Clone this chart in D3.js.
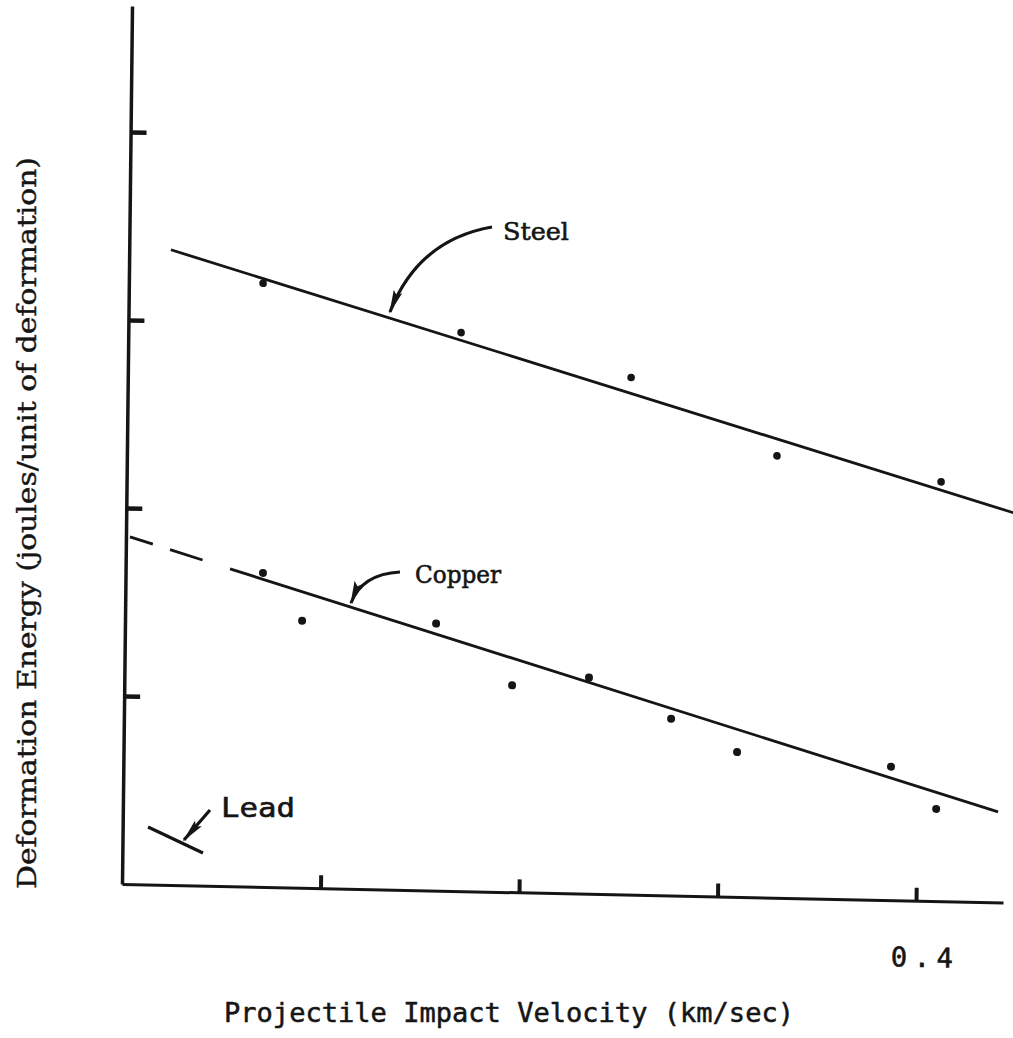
<!DOCTYPE html>
<html>
<head>
<meta charset="utf-8">
<script src="https://cdn.jsdelivr.net/npm/d3@7"></script>
<style>
    body { margin: 0; background: #fff; }
    svg { display: block; }
</style>
</head>
<body>
<div id="content"></div>
<script>
// ======= data =======
var steelVel = [0.0676, 0.1676, 0.2535, 0.3274, 0.4102];
var steelEnergy = [3.21, 2.97, 2.75, 2.35, 2.23];
var copperVel = [0.0692, 0.0892, 0.1567, 0.1953, 0.2340, 0.2756, 0.3090, 0.3866, 0.4096];
var copperEnergy = [1.67, 1.42, 1.42, 1.10, 1.15, 0.94, 0.77, 0.71, 0.49];

// fitted lines
var steelFitVel = [0.021, 0.447];
var steelFitEnergy = [3.378, 2.073];
var copperFitVel = [0.0526, 0.4408];
var copperFitEnergy = [1.688, 0.481];
var copperExtrapVel = [0.002, 0.0526];
var copperExtrapEnergy = [1.847, 1.688];
var leadFitVel = [0.0128, 0.0406];
var leadFitEnergy = [0.306, 0.174];

// axes
var xTicks = [0.1, 0.2, 0.3, 0.4];
var xTickLabels = ["", "", "", "0.4"];
var yTicks = [1, 2, 3, 4];
var xMax = 0.4438;
var yMax = 4.67;

var xTitle = "Projectile Impact Velocity (km/sec)";
var yTitle = "Deformation Energy (joules/unit of deformation)";

function zip(xs, ys) {
    return xs.map(function(x, i) { return [x, ys[i]]; });
}

// ======= formatting =======
var width = 1013;
var height = 1038;
var origin = {x: 122, y: 884};
var plotW = 881;
var plotH = 878;
var ink = "#151515";
var serif = "'DejaVu Serif', 'Liberation Serif', serif";
var mono = "'DejaVu Sans Mono', 'Liberation Mono', monospace";

// ======= scales =======
var xScale = d3.scaleLinear().domain([0, xMax]).range([0, plotW]);
var yScale = d3.scaleLinear().domain([0, yMax]).range([0, -plotH]);

// ======= elements =======
var svg = d3.select("#content")
    .append("svg")
        .attr("width", width)
        .attr("height", height);

svg.append("rect")
    .attr("width", width)
    .attr("height", height)
    .attr("fill", "#fff");

var defs = svg.append("defs");
defs.append("marker")
    .attr("id", "head")
    .attr("markerUnits", "userSpaceOnUse")
    .attr("viewBox", "0 -7 24 14")
    .attr("markerWidth", 24)
    .attr("markerHeight", 14)
    .attr("refX", 22)
    .attr("refY", 0)
    .attr("orient", "auto")
    .append("path")
        .attr("d", "M0,-4.5 L24,0 L0,4.5 L4,0 z")
        .attr("fill", ink);

// the scan is a little skewed, so the plot frame is too
var plot = svg.append("g")
    .attr("transform", "translate(" + origin.x + "," + origin.y + ") matrix(1,0.021,-0.0114,1,0,0)");

// ======= x axis =======
var xAxis = plot.append("g")
    .attr("class", "axis axis-x")
    .call(d3.axisBottom(xScale)
        .tickValues(xTicks)
        .tickSizeInner(-13)
        .tickSizeOuter(0)
        .tickPadding(47)
        .tickFormat(function(d, i) { return xTickLabels[i]; }));
xAxis.select(".domain").attr("stroke", ink).attr("stroke-width", 3);
xAxis.selectAll(".tick line").attr("stroke", ink).attr("stroke-width", 4);
xAxis.selectAll(".tick text")
    .attr("fill", ink)
    .attr("stroke", ink)
    .attr("stroke-width", 0.6)
    .attr("dx", 6)
    .attr("textLength", 62)
    .attr("lengthAdjust", "spacing")
    .style("font-family", mono)
    .style("font-size", "27px");

// ======= y axis =======
var yAxis = plot.append("g")
    .attr("class", "axis axis-y")
    .call(d3.axisLeft(yScale)
        .tickValues(yTicks)
        .tickSizeInner(-16)
        .tickSizeOuter(0)
        .tickFormat(""));
yAxis.select(".domain").attr("stroke", ink).attr("stroke-width", 3.5);
yAxis.selectAll(".tick line").attr("stroke", ink).attr("stroke-width", 4.5);

// ======= fitted lines =======
var line = d3.line()
    .x(function(d) { return xScale(d[0]); })
    .y(function(d) { return yScale(d[1]); });

plot.append("path")
    .datum(zip(steelFitVel, steelFitEnergy))
    .attr("d", line)
    .attr("fill", "none")
    .attr("stroke", ink)
    .attr("stroke-width", 2.8);

plot.append("path")
    .datum(zip(copperFitVel, copperFitEnergy))
    .attr("d", line)
    .attr("fill", "none")
    .attr("stroke", ink)
    .attr("stroke-width", 2.8);

plot.append("path")
    .datum(zip(copperExtrapVel, copperExtrapEnergy))
    .attr("d", line)
    .attr("fill", "none")
    .attr("stroke", ink)
    .attr("stroke-width", 2.8)
    .attr("stroke-dasharray", "24,18,34,40");

plot.append("path")
    .datum(zip(leadFitVel, leadFitEnergy))
    .attr("d", line)
    .attr("fill", "none")
    .attr("stroke", ink)
    .attr("stroke-width", 3.2);

// ======= points =======
plot.append("g")
    .selectAll("circle")
    .data(zip(steelVel, steelEnergy))
    .enter()
    .append("circle")
        .attr("cx", function(d) { return xScale(d[0]); })
        .attr("cy", function(d) { return yScale(d[1]); })
        .attr("r", 3.8)
        .attr("fill", ink);

plot.append("g")
    .selectAll("circle")
    .data(zip(copperVel, copperEnergy))
    .enter()
    .append("circle")
        .attr("cx", function(d) { return xScale(d[0]); })
        .attr("cy", function(d) { return yScale(d[1]); })
        .attr("r", 4)
        .attr("fill", ink);

// ======= annotations =======
var notes = svg.append("g").attr("class", "notes");

function arrow(d) {
    notes.append("path")
        .attr("d", d)
        .attr("fill", "none")
        .attr("stroke", ink)
        .attr("stroke-width", 3.2)
        .attr("marker-end", "url(#head)");
}

function label(txt, x, y, len, family, size) {
    notes.append("text")
        .attr("x", x).attr("y", y)
        .attr("textLength", len)
        .attr("lengthAdjust", "spacingAndGlyphs")
        .attr("fill", ink)
        .attr("stroke", ink)
        .attr("stroke-width", 0.6)
        .style("font-family", family)
        .style("font-size", size + "px")
        .text(txt);
}

arrow("M492,227 Q418,240 390,312");
arrow("M400,572 Q362,574 351,603");
arrow("M210,810 L184,840");

label("Steel", 503, 240, 66, serif, 25);
label("Copper", 415, 583, 86, serif, 25);
label("Lead", 221, 817, 74, mono, 27);

// ======= axis titles =======
notes.append("text")
    .attr("x", 224).attr("y", 1022)
    .attr("textLength", 570)
    .attr("lengthAdjust", "spacingAndGlyphs")
    .attr("fill", ink)
    .attr("stroke", ink)
    .attr("stroke-width", 0.5)
    .style("font-family", mono)
    .style("font-size", "26px")
    .text(xTitle);

notes.append("text")
    .attr("transform", "translate(36,523) rotate(-90)")
    .attr("text-anchor", "middle")
    .attr("textLength", 732)
    .attr("lengthAdjust", "spacingAndGlyphs")
    .attr("fill", ink)
    .attr("stroke", ink)
    .attr("stroke-width", 0.4)
    .style("font-family", serif)
    .style("font-size", "26px")
    .text(yTitle);
</script>
</body>
</html>
